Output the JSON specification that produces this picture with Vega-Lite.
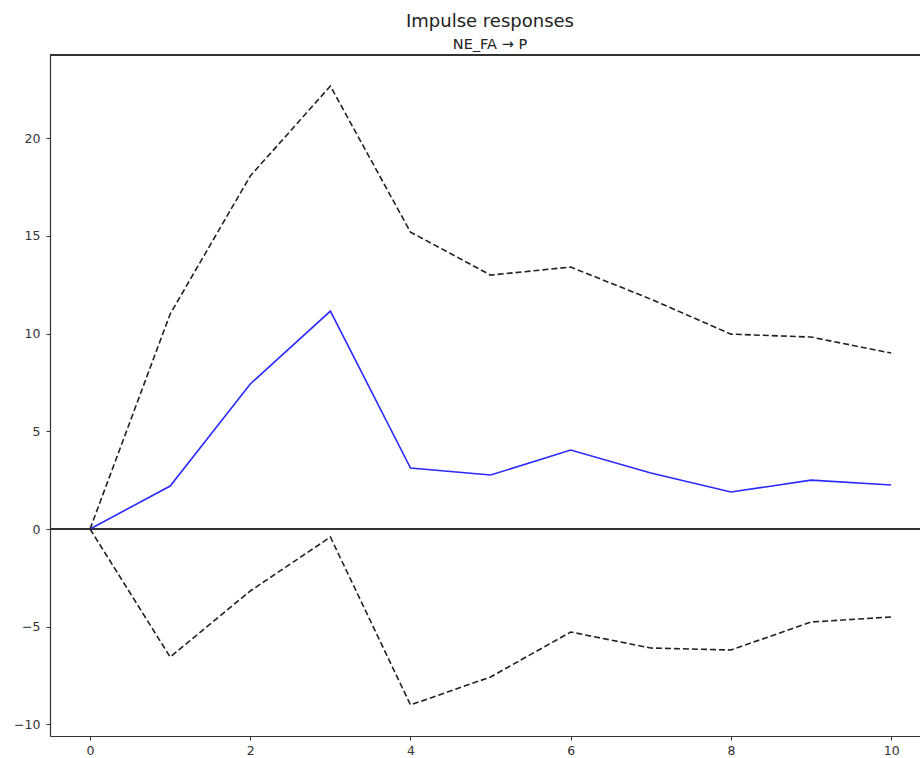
{
  "$schema": "https://vega.github.io/schema/vega-lite/v6.json",
  "autosize": "none",
  "width": 870,
  "height": 681,
  "padding": {"left": 50, "top": 55, "right": 0, "bottom": 22},
  "background": "white",
  "config": {
    "font": "DejaVu Sans",
    "view": {"stroke": null},
    "axis": {"grid": false, "labelFont": "DejaVu Sans", "labelFontSize": 12, "labelColor": "#333", "domainColor": "#333", "tickColor": "#333", "domainWidth": 1.2, "tickWidth": 1, "tickSize": 4, "title": null}
  },
  "title": {
    "text": "Impulse responses",
    "subtitle": "NE_FA → P",
    "fontSize": 18,
    "fontWeight": "normal",
    "color": "#222",
    "subtitleFontSize": 14.5,
    "subtitleColor": "#222",
    "subtitlePadding": 7,
    "anchor": "middle",
    "frame": "group",
    "dx": 5,
    "offset": 3,
    "font": "DejaVu Sans",
    "subtitleFont": "DejaVu Sans"
  },
  "data": {
    "values": [
      {"h": 0, "irf": 0, "upper": 0, "lower": 0},
      {"h": 1, "irf": 2.2, "upper": 11.0, "lower": -6.55},
      {"h": 2, "irf": 7.42, "upper": 18.06, "lower": -3.17},
      {"h": 3, "irf": 11.15, "upper": 22.66, "lower": -0.41},
      {"h": 4, "irf": 3.12, "upper": 15.19, "lower": -9.0},
      {"h": 5, "irf": 2.76, "upper": 12.99, "lower": -7.57},
      {"h": 6, "irf": 4.04, "upper": 13.4, "lower": -5.27},
      {"h": 7, "irf": 2.86, "upper": 11.76, "lower": -6.09},
      {"h": 8, "irf": 1.89, "upper": 9.97, "lower": -6.19},
      {"h": 9, "irf": 2.5, "upper": 9.82, "lower": -4.76},
      {"h": 10, "irf": 2.25, "upper": 9.0, "lower": -4.5}
    ]
  },
  "layer": [
    {
      "mark": {"type": "rule", "color": "#333", "strokeWidth": 1.5},
      "encoding": {
        "y": {"datum": 0, "type": "quantitative", "scale": {"domain": [-10.59, 24.25], "nice": false, "zero": false}}
      }
    },
    {
      "mark": {"type": "line", "color": "#2a2aff", "strokeWidth": 1.6},
      "encoding": {
        "x": {"field": "h", "type": "quantitative", "scale": {"domain": [-0.5, 10.36], "nice": false, "zero": false}, "axis": {"values": [0, 2, 4, 6, 8, 10], "format": "d", "labelPadding": 4, "labelFontSize": 12.5}},
        "y": {"field": "irf", "type": "quantitative", "scale": {"domain": [-10.59, 24.25], "nice": false, "zero": false}, "axis": {"values": [-10, -5, 0, 5, 10, 15, 20], "format": "d", "labelPadding": 6, "labelFontSize": 12.5}}
      }
    },
    {
      "mark": {"type": "line", "color": "#222", "strokeWidth": 1.6, "strokeDash": [6, 3]},
      "encoding": {
        "x": {"field": "h", "type": "quantitative"},
        "y": {"field": "upper", "type": "quantitative"}
      }
    },
    {
      "mark": {"type": "line", "color": "#222", "strokeWidth": 1.6, "strokeDash": [6, 3]},
      "encoding": {
        "x": {"field": "h", "type": "quantitative"},
        "y": {"field": "lower", "type": "quantitative"}
      }
    },
    {
      "mark": {"type": "rule", "color": "#333", "strokeWidth": 1.2},
      "encoding": {
        "y": {"datum": 24.25, "type": "quantitative"}
      }
    }
  ]
}
